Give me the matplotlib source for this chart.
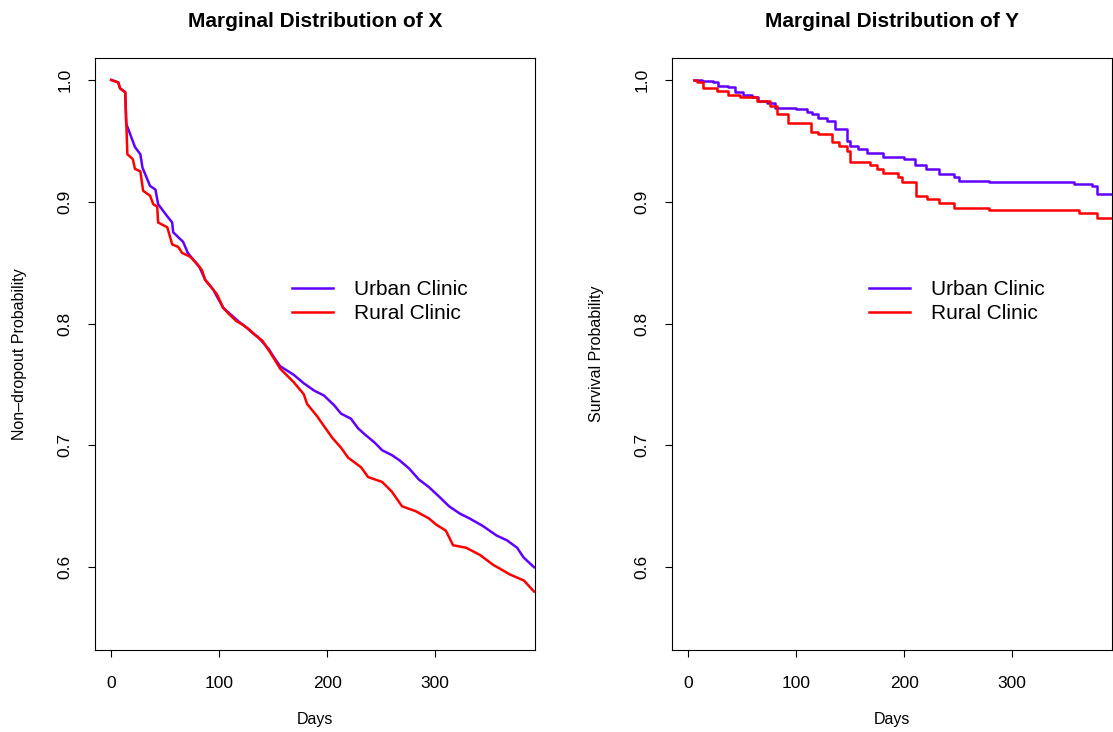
import matplotlib.pyplot as plt
import numpy as np

plt.rcParams['font.family'] = ['Liberation Sans', 'DejaVu Sans']

# Marginal distribution of X (non-dropout), Kaplan-Meier points
x_days_urban = [0, 6.5, 8.3, 13, 13.9, 15.7, 22, 27, 29, 36, 41, 43.5, 52, 56.5, 57.4,
                66.7, 71, 82, 87, 94.4, 103.7, 110, 119, 125, 130, 136, 141, 146, 151,
                156.5, 169, 178.4, 188, 197, 206.5, 213, 222, 228.7, 235, 244.4, 251,
                260, 266.7, 276, 285, 294, 303.7, 313, 323, 332, 344, 357, 366.7, 376,
                382, 391.7]
x_surv_urban = [1.0, 0.998, 0.993, 0.990, 0.964, 0.960, 0.945, 0.939, 0.928, 0.913, 0.910,
                0.898, 0.888, 0.883, 0.875, 0.867, 0.858, 0.846, 0.836, 0.828, 0.813,
                0.808, 0.801, 0.797, 0.793, 0.789, 0.784, 0.779, 0.772, 0.765, 0.758,
                0.751, 0.745, 0.741, 0.733, 0.726, 0.722, 0.714, 0.709, 0.702, 0.696,
                0.692, 0.688, 0.681, 0.672, 0.666, 0.658, 0.650, 0.644, 0.640, 0.634,
                0.626, 0.622, 0.616, 0.608, 0.600]

x_days_rural = [0, 6.5, 8.3, 13, 15, 17.6, 20, 22, 27, 29.6, 36, 39, 42.6, 43.5, 52, 56.5,
                62, 65.7, 73, 79.6, 84, 87, 94.4, 98, 103.7, 110, 116, 122, 128, 134,
                140, 146, 151, 156.5, 169, 178.4, 181.5, 190.7, 197, 205, 213, 219.4,
                231.5, 238, 251, 260, 269.4, 282, 294.4, 301, 310, 316.7, 328.7, 341.7,
                353.7, 369.4, 382.4, 391.7]
x_surv_rural = [1.0, 0.998, 0.993, 0.990, 0.939, 0.937, 0.935, 0.927, 0.925, 0.909, 0.905,
                0.898, 0.896, 0.883, 0.879, 0.865, 0.863, 0.858, 0.855, 0.849, 0.844,
                0.836, 0.828, 0.824, 0.813, 0.807, 0.802, 0.799, 0.795, 0.790, 0.786,
                0.778, 0.771, 0.763, 0.752, 0.742, 0.734, 0.724, 0.716, 0.706, 0.698,
                0.690, 0.682, 0.674, 0.670, 0.662, 0.650, 0.646, 0.640, 0.635, 0.630,
                0.618, 0.616, 0.610, 0.602, 0.594, 0.589, 0.580]

# Marginal distribution of Y (survival), step points
y_days_urban = [5, 13, 23, 28, 37, 43, 51, 59, 65, 73, 80, 100, 110, 114.5, 120, 129, 136,
                147, 150, 157, 166, 180, 200, 210, 220.7, 232.7, 246.5, 251, 279, 357,
                374, 378.6, 392]
y_surv_urban = [1.0, 0.999, 0.998, 0.995, 0.994, 0.990, 0.988, 0.986, 0.983, 0.981, 0.977,
                0.976, 0.974, 0.972, 0.969, 0.966, 0.960, 0.950, 0.946, 0.943, 0.940,
                0.937, 0.935, 0.930, 0.927, 0.923, 0.920, 0.917, 0.916, 0.915, 0.913,
                0.906, 0.906]

y_days_rural = [5, 8, 14, 27, 37, 48, 64, 76, 82, 92, 114, 120, 133, 140, 147, 150, 168,
                175, 180, 194, 198.5, 211, 221.6, 232.7, 246.5, 279, 362, 378.6, 392]
y_surv_rural = [1.0, 0.998, 0.993, 0.991, 0.988, 0.986, 0.983, 0.979, 0.972, 0.965, 0.957,
                0.956, 0.949, 0.946, 0.942, 0.933, 0.930, 0.927, 0.924, 0.920, 0.916,
                0.905, 0.902, 0.899, 0.895, 0.893, 0.891, 0.887, 0.887]

# (title, ylabel, urban, rural, drawstyle)
panels = [
    ("Marginal Distribution of X", "Non\u2013dropout Probability",
     (x_days_urban, x_surv_urban), (x_days_rural, x_surv_rural), "default"),
    ("Marginal Distribution of Y", "Survival Probability",
     (y_days_urban, y_surv_urban), (y_days_rural, y_surv_rural), "steps-post"),
]

blue = "#6200FF"
red = "#FF0000"

fig = plt.figure(figsize=(11.13, 7.32), dpi=100)
lefts = [95 / 1113, 672 / 1113]

for left, (title, ylabel, urban, rural, ds) in zip(lefts, panels):
    ax = fig.add_axes([left, 0.112, 440 / 1113, 0.8087])
    ax.plot(urban[0], urban[1], drawstyle=ds, color=blue, lw=1.8,
            label="Urban Clinic")
    ax.plot(rural[0], rural[1], drawstyle=ds, color=red, lw=1.8,
            label="Rural Clinic")
    ax.set_xlim(-15, 392.6)
    ax.set_ylim(0.532, 1.018)
    ax.set_xticks([0, 100, 200, 300])
    ax.set_yticks([0.6, 0.7, 0.8, 0.9, 1.0])
    ax.set_yticklabels(["0.6", "0.7", "0.8", "0.9", "1.0"], rotation=90, va="center")
    ax.tick_params(direction="out", length=5, width=0.8, labelsize=12.5, pad=11)
    ax.tick_params(axis="x", pad=14)
    for s in ax.spines.values():
        s.set_linewidth(0.8)
    ax.set_title(title, fontsize=15, fontweight="bold", pad=22)
    ax.set_xlabel("Days", fontsize=11.5, labelpad=15)
    ax.set_ylabel(ylabel, fontsize=11.5, labelpad=22)
    ax.legend(loc="upper left", bbox_to_anchor=(0.447, 0.625), frameon=False,
              fontsize=15, handlelength=2.0, handletextpad=1.0, labelspacing=0.25,
              borderpad=0, borderaxespad=0)

fig.savefig("out.png", dpi=100)
